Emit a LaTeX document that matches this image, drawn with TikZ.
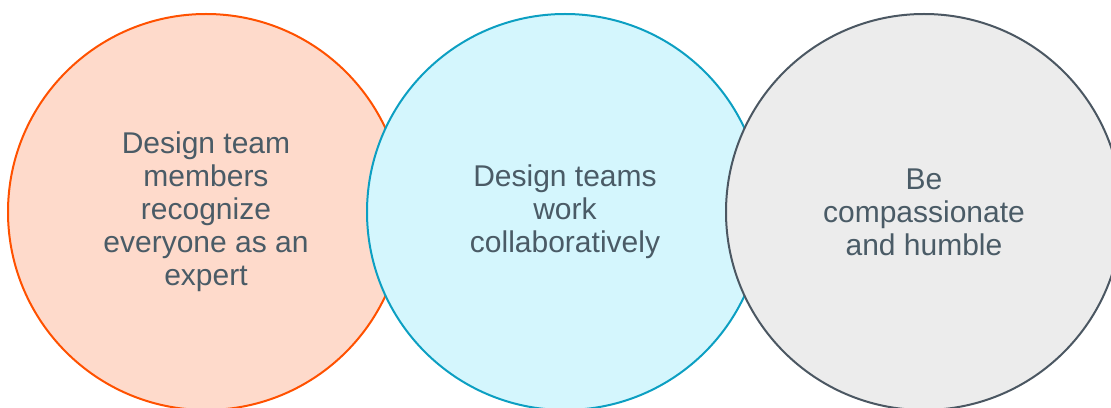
\documentclass[tikz,border=0pt]{standalone}
\usepackage{fontspec}
\setmainfont{Liberation Sans}
\usepackage{tikz}

\definecolor{peachfill}{HTML}{FEDACB}
\definecolor{peachline}{HTML}{FF5100}
\definecolor{cyanfill}{HTML}{D4F6FD}
\definecolor{cyanline}{HTML}{0C9FC2}
\definecolor{greyfill}{HTML}{ECECEC}
\definecolor{greyline}{HTML}{4B5762}
\definecolor{slate}{HTML}{4A5B66}

\begin{document}
\begin{tikzpicture}[x=1pt,y=1pt,
    bubble/.style={circle, line width=2pt, minimum size=396pt, inner sep=0pt,
      align=center, text=slate, font=\fontsize{30}{33}\selectfont}]

  \def\xmax{1111}
  \def\ymax{407}
  \def\cy{195}

  \useasboundingbox (0,0) rectangle (\xmax,\ymax);

  % circles
  \node[bubble, draw=peachline, fill=peachfill] (expert) at (206,\cy)
    {Design team\\members\\recognize\\everyone as an\\expert};
  \node[bubble, draw=cyanline, fill=cyanfill] (collab) at (565,\cy)
    {Design teams\\work\\collaboratively};
  \node[bubble, draw=greyline, fill=greyfill] (humble) at (924,\cy)
    {Be\\compassionate\\and humble};

\end{tikzpicture}
\end{document}
